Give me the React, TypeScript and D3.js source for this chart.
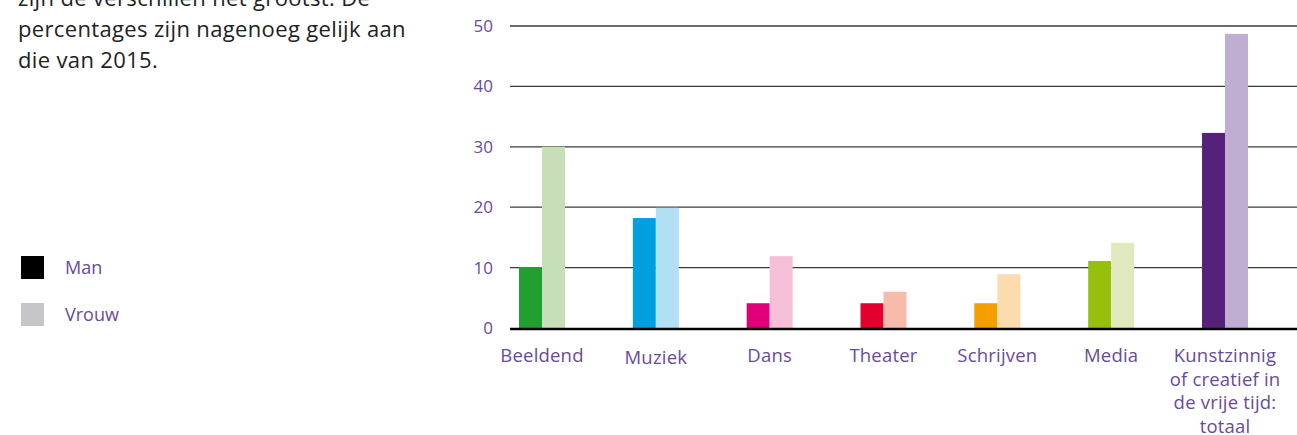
import React from "react";
import * as d3 from "d3";

const categories = ["Beeldend", "Muziek", "Dans", "Theater", "Schrijven", "Media", "Kunstzinnig of creatief in de vrije tijd: totaal"];
const categoryLines = [["Beeldend"], ["Muziek"], ["Dans"], ["Theater"], ["Schrijven"], ["Media"], ["Kunstzinnig", "of creatief in", "de vrije tijd:", "totaal"]];
const series = ["Man", "Vrouw"];
const manValues = [10.1, 18.2, 4.1, 4.1, 4.1, 11.1, 32.3];
const vrouwValues = [30, 19.9, 11.9, 6.0, 8.9, 14.1, 48.7];
const manColors = ["#21a02f", "#009fdf", "#e2007a", "#e3002f", "#f49e00", "#97bf0d", "#56217a"];
const vrouwColors = ["#c7dfb8", "#b1dff4", "#f5bfd7", "#f7bbab", "#fcdcaf", "#e0e9bd", "#bfaed1"];
const yTicks = [0, 10, 20, 30, 40, 50];
const legendColors = ["#000000", "#c6c6c8"];
const paragraph = ["zijn de verschillen het grootst. De", "percentages zijn nagenoeg gelijk aan", "die van 2015."];

const W = 1297, H = 435;
const purple = "#6a4a9c";
const font = "'Open Sans', sans-serif";

export default function App() {
  const y = d3.scaleLinear().domain([0, 50]).range([328, 26]);
  const x = d3.scalePoint<string>().domain(categories).range([542, 1225]);
  const inner = d3.scaleBand<string>().domain(series).range([-23, 23]);
  const gridX0 = 510, gridX1 = 1297;
  return (
    <svg width={W} height={H} style={{ position: "absolute", left: 0, top: 0, background: "#fff" }}>
      {paragraph.map((t, i) => (
        <text key={i} x={18} y={6 + i * 30.8} fontFamily={font} fontSize={22} letterSpacing={0.35} fill="#222">{t}</text>
      ))}
      {series.map((s, i) => (
        <g key={s}>
          <rect x={21} y={256 + i * 47} width={23} height={23} fill={legendColors[i]} />
          <text x={65} y={274 + i * 47} fontFamily={font} fontSize={18} fill={purple}>{s}</text>
        </g>
      ))}
      {yTicks.filter(t => t > 0).map(t => (
        <line key={t} x1={gridX0} x2={gridX1} y1={y(t)} y2={y(t)} stroke="#3a3a3a" strokeWidth={1.3} />
      ))}
      {yTicks.map(t => (
        <text key={t} x={493} y={y(t) + 6} textAnchor="end" fontFamily={font} fontSize={17} fill={purple}>{t}</text>
      ))}
      {categories.map((c, i) => (
        <g key={c}>
          <rect x={(x(c) as number) + (inner("Man") as number)} y={y(manValues[i])} width={inner.bandwidth()} height={y(0) - y(manValues[i])} fill={manColors[i]} />
          <rect x={(x(c) as number) + (inner("Vrouw") as number)} y={y(vrouwValues[i])} width={inner.bandwidth()} height={y(0) - y(vrouwValues[i])} fill={vrouwColors[i]} />
        </g>
      ))}
      <line x1={gridX0} x2={gridX1} y1={y(0) + 1} y2={y(0) + 1} stroke="#000" strokeWidth={2.6} />
      {categories.map((c, i) => (
        <text key={c} textAnchor="middle" fontFamily={font} fontSize={18.5} letterSpacing={0.2} fill={purple}>
          {categoryLines[i].map((l, j) => (
            <tspan key={j} x={x(c) as number} y={362 + (c === "Muziek" ? 2 : 0) + j * 23.5}>{l}</tspan>
          ))}
        </text>
      ))}
    </svg>
  );
}
